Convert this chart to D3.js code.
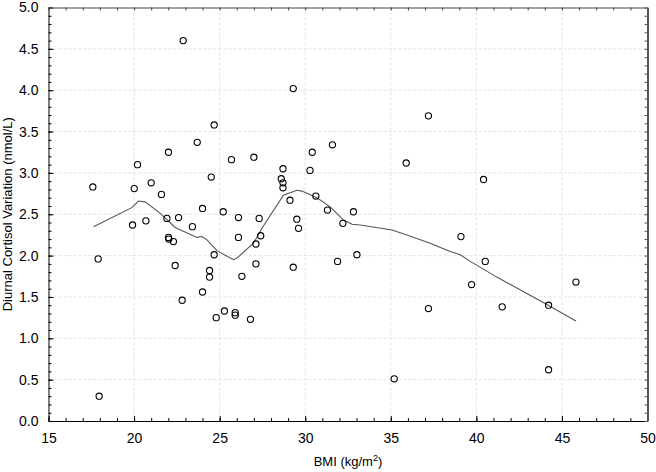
<!DOCTYPE html>
<html>
<head>
<meta charset="utf-8">
<script src="https://cdn.jsdelivr.net/npm/d3@7"></script>
<style>
  body { margin: 0; background: #fff; }
  svg { display: block; font-family: "Liberation Sans", Arial, sans-serif; }
</style>
</head>
<body>
<div id="chart"></div>
<script>
// Scatter data: BMI (kg/m2) vs diurnal cortisol variation (nmol/L)
const bmi = [17.59, 17.90, 17.96, 19.91, 20.01, 20.20, 20.69, 21.00, 21.60, 21.92,
  22.01, 22.01, 22.03, 22.30, 22.40, 22.60, 22.81, 22.87, 23.41, 23.69,
  24.00, 24.00, 24.41, 24.41, 24.51, 24.68, 24.68, 24.80, 25.21, 25.28,
  25.69, 25.91, 25.91, 26.10, 26.10, 26.30, 26.80, 27.00, 27.12, 27.12,
  27.31, 27.40, 28.60, 28.70, 28.70, 28.70, 29.11, 29.30, 29.30, 29.51,
  29.61, 30.28, 30.41, 30.62, 31.30, 31.59, 31.89, 32.20, 32.82, 33.02,
  35.20, 35.90, 37.20, 37.20, 39.10, 39.72, 40.42, 40.52, 41.51, 44.22,
  44.22, 45.82];
const cortisol = [2.83, 1.96, 0.30, 2.37, 2.81, 3.10, 2.42, 2.88, 2.74, 2.45,
  3.25, 2.22, 2.20, 2.17, 1.88, 2.46, 1.46, 4.60, 2.35, 3.37,
  2.57, 1.56, 1.82, 1.74, 2.95, 3.58, 2.01, 1.25, 2.53, 1.33,
  3.16, 1.31, 1.28, 2.46, 2.22, 1.75, 1.23, 3.19, 2.14, 1.90,
  2.45, 2.24, 2.93, 3.05, 2.88, 2.82, 2.67, 1.86, 4.02, 2.44,
  2.33, 3.03, 3.25, 2.72, 2.55, 3.34, 1.93, 2.39, 2.53, 2.01,
  0.51, 3.12, 3.69, 1.36, 2.23, 1.65, 2.92, 1.93, 1.38, 1.40,
  0.62, 1.68];

// Smoothed fit line
const fitX = [17.63, 19.87, 20.26, 20.65, 21.53, 22.40, 23.67, 23.96, 24.26, 24.84,
  25.81, 26.01, 26.98, 27.47, 28.73, 29.51, 29.81, 30.68, 31.46, 32.24,
  32.73, 33.21, 35.07, 35.94, 37.30, 38.47, 39.06, 39.64, 41.20, 44.12, 45.82];
const fitY = [2.35, 2.58, 2.66, 2.65, 2.51, 2.34, 2.22, 2.23, 2.19, 2.06,
  1.95, 1.97, 2.15, 2.33, 2.73, 2.79, 2.78, 2.70, 2.59, 2.43,
  2.38, 2.37, 2.31, 2.25, 2.15, 2.05, 2.01, 1.93, 1.74, 1.41, 1.21];

const xTicks = [15, 20, 25, 30, 35, 40, 45, 50];
const yTicks = [0, 0.5, 1, 1.5, 2, 2.5, 3, 3.5, 4, 4.5, 5];

const W = 656, H = 472;
const margin = { top: 7.5, right: 8.5, bottom: 51, left: 48.5 };
const iw = W - margin.left - margin.right;
const ih = H - margin.top - margin.bottom;

const svg = d3.select("#chart").append("svg")
  .attr("width", W)
  .attr("height", H);

const g = svg.append("g")
  .attr("transform", `translate(${margin.left},${margin.top})`);

const x = d3.scaleLinear().domain([15, 50]).range([0, iw]);
const y = d3.scaleLinear().domain([0, 5]).range([ih, 0]);

// dashed grid
g.append("g").selectAll("line.vg")
  .data(xTicks.slice(1, -1))
  .join("line")
  .attr("x1", d => x(d)).attr("x2", d => x(d))
  .attr("y1", 0).attr("y2", ih)
  .attr("stroke", "#e2e2e2")
  .attr("stroke-dasharray", "3,2");

g.append("g").selectAll("line.hg")
  .data(yTicks.slice(1, -1))
  .join("line")
  .attr("x1", 0).attr("x2", iw)
  .attr("y1", d => y(d)).attr("y2", d => y(d))
  .attr("stroke", "#e2e2e2")
  .attr("stroke-dasharray", "3,2");

// minor ticks every 1 BMI unit and every 0.1 nmol/L
const xMinor = d3.range(15, 50.01, 1);
const yMinor = d3.range(0, 5.001, 0.1);

function styleAxis(sel) {
  sel.select(".domain").attr("stroke", "#000");
  sel.selectAll(".tick line").attr("stroke", "#000");
  sel.selectAll("text").attr("font-size", 14).attr("fill", "#000");
}

// bottom
g.append("g")
  .attr("transform", `translate(0,${ih})`)
  .call(d3.axisBottom(x).tickValues(xMinor).tickSize(-3).tickFormat(""))
  .call(s => s.select(".domain").remove())
  .selectAll("line").attr("stroke", "#000");
g.append("g")
  .attr("transform", `translate(0,${ih})`)
  .call(d3.axisBottom(x).tickValues(xTicks).tickSize(-5).tickPadding(12).tickSizeOuter(0))
  .call(styleAxis);

// left
g.append("g")
  .call(d3.axisLeft(y).tickValues(yMinor).tickSize(-3).tickFormat(""))
  .call(s => s.select(".domain").remove())
  .selectAll("line").attr("stroke", "#000");
g.append("g")
  .call(d3.axisLeft(y).tickValues(yTicks).tickSize(-5).tickPadding(10).tickSizeOuter(0)
    .tickFormat(d3.format(".1f")))
  .call(styleAxis);

// top
g.append("g")
  .call(d3.axisTop(x).tickValues(xMinor).tickSize(-3).tickFormat("").tickSizeOuter(0))
  .call(s => s.select(".domain").attr("stroke", "#444"))
  .selectAll("line").attr("stroke", "#444");

// right
g.append("g")
  .attr("transform", `translate(${iw},0)`)
  .call(d3.axisRight(y).tickValues(yMinor).tickSize(-3).tickFormat("").tickSizeOuter(0))
  .call(s => s.select(".domain").attr("stroke", "#555").attr("stroke-width", 2))
  .selectAll("line").attr("stroke", "#555");

// fit line
const line = d3.line()
  .x(i => x(fitX[i]))
  .y(i => y(fitY[i]));

g.append("path")
  .datum(d3.range(fitX.length))
  .attr("d", line)
  .attr("fill", "none")
  .attr("stroke", "#555")
  .attr("stroke-width", 1.1);

// points
g.append("g").selectAll("circle")
  .data(d3.range(bmi.length))
  .join("circle")
  .attr("cx", i => x(bmi[i]))
  .attr("cy", i => y(cortisol[i]))
  .attr("r", 3.1)
  .attr("fill", "none")
  .attr("stroke", "#000")
  .attr("stroke-width", 1.1);

// axis titles
const xt = svg.append("text")
  .attr("x", margin.left + iw / 2)
  .attr("y", 466)
  .attr("text-anchor", "middle")
  .attr("font-size", 13)
  .text("BMI (kg/m");
xt.append("tspan").attr("dy", -5).attr("font-size", 9).text("2");
xt.append("tspan").attr("dy", 5).text(")");

svg.append("text")
  .attr("transform", `translate(12,${margin.top + ih / 2}) rotate(-90)`)
  .attr("text-anchor", "middle")
  .attr("font-size", 13)
  .text("Diurnal Cortisol Variation (nmol/L)");
</script>
</body>
</html>
